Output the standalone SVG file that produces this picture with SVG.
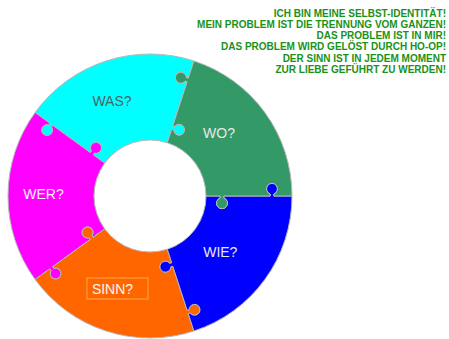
<svg xmlns="http://www.w3.org/2000/svg" width="449" height="339" viewBox="0 0 449 339">
<style>
.seg{stroke:#b8b8b8;stroke-width:1;stroke-linejoin:round}
.lbl{font-family:"Liberation Sans",Arial,sans-serif;font-size:14px;text-anchor:middle}
.msg{font-family:"Liberation Sans",Arial,sans-serif;font-size:10px;font-weight:bold;fill:#1a921a;text-anchor:end}
</style>
<rect width="449" height="339" fill="#ffffff"/>
<g id="ring">
<g id="was">
<path class="seg" fill="#00ffff" d="M167.31,142.74 L171.69,129.24 L173.60,129.85 A5.5,5.5 0 1 0 174.71,126.43 L172.81,125.81 L187.14,81.68 L185.24,81.07 A5.5,5.5 0 1 1 186.35,77.64 L188.26,78.26 L193.88,60.95 A142,142 0 0 0 35.12,112.53 L49.84,123.23 L48.67,124.85 A5.5,5.5 0 1 0 51.58,126.97 L52.76,125.35 L90.29,152.62 L91.47,151.00 A5.5,5.5 0 1 1 94.38,153.12 L93.21,154.74 L104.70,163.08 A56,56 0 0 1 167.31,142.74 Z"/>
<text class="lbl" x="112" y="105.5" fill="#4a6464">WAS?</text>
</g>
<g id="wer">
<path class="seg" fill="#ff00ff" d="M104.70,163.08 L93.21,154.74 L94.38,153.12 A5.5,5.5 0 1 0 91.47,151.00 L90.29,152.62 L52.76,125.35 L51.58,126.97 A5.5,5.5 0 1 1 48.67,124.85 L49.84,123.23 L35.12,112.53 A142,142 0 0 0 35.12,279.47 L49.84,268.77 L51.02,270.39 A5.5,5.5 0 1 0 53.93,268.27 L52.76,266.65 L90.29,239.38 L89.12,237.76 A5.5,5.5 0 1 1 92.03,235.64 L93.21,237.26 L104.70,228.92 A56,56 0 0 1 104.70,163.08 Z"/>
<text class="lbl" x="43.5" y="199" fill="#f4f4f4">WER?</text>
</g>
<g id="sinn">
<path class="seg" fill="#ff6600" stroke="#ff8a2a" d="M104.70,228.92 L93.21,237.26 L92.03,235.64 A5.5,5.5 0 1 0 89.12,237.76 L90.29,239.38 L52.76,266.65 L53.93,268.27 A5.5,5.5 0 1 1 51.02,270.39 L49.84,268.77 L35.12,279.47 A142,142 0 0 0 193.88,331.05 L188.26,313.74 L190.16,313.12 A5.5,5.5 0 1 0 189.05,309.70 L187.14,310.32 L172.81,266.19 L170.90,266.81 A5.5,5.5 0 1 1 169.79,263.38 L171.69,262.76 L167.31,249.26 A56,56 0 0 1 104.70,228.92 Z"/>
<rect x="87" y="278" width="61" height="21" fill="none" stroke="#ffaa44" stroke-width="1"/>
<text class="lbl" x="112.5" y="294.3" fill="#f6f6f6">SINN?</text>
</g>
<g id="wie">
<path class="seg" fill="#0000ff" d="M167.31,249.26 L171.69,262.76 L169.79,263.38 A5.5,5.5 0 1 0 170.90,266.81 L172.81,266.19 L187.14,310.32 L189.05,309.70 A5.5,5.5 0 1 1 190.16,313.12 L188.26,313.74 L193.88,331.05 A142,142 0 0 0 292,196 L273.8,196 L273.8,194 A5.5,5.5 0 1 0 270.2,194 L270.2,196 L223.8,196 L223.8,198 A5.5,5.5 0 1 1 220.2,198 L220.2,196 L206,196 A56,56 0 0 1 167.31,249.26 Z"/>
<text class="lbl" x="220.3" y="256.7" fill="#e8e8e8">WIE?</text>
</g>
<g id="wo">
<path class="seg" fill="#339966" stroke="#f0603a" d="M206,196 L220.2,196 L220.2,198 A5.5,5.5 0 1 0 223.8,198 L223.8,196 L270.2,196 L270.2,194 A5.5,5.5 0 1 1 273.8,194 L273.8,196 L292,196 A142,142 0 0 0 193.88,60.95 L188.26,78.26 L186.35,77.64 A5.5,5.5 0 1 0 185.24,81.07 L187.14,81.68 L172.81,125.81 L174.71,126.43 A5.5,5.5 0 1 1 173.60,129.85 L171.69,129.24 L167.31,142.74 A56,56 0 0 1 206,196 Z"/>
<text class="lbl" x="219" y="138.3" fill="#e8e8e8">WO?</text>
</g>
</g>
<g id="message">
<text class="msg" x="446" y="16.5">ICH BIN MEINE SELBST-IDENTITÄT!</text>
<text class="msg" x="446" y="27.8">MEIN PROBLEM IST DIE TRENNUNG VOM GANZEN!</text>
<text class="msg" x="446" y="39.1">DAS PROBLEM IST IN MIR!</text>
<text class="msg" x="446" y="50.4">DAS PROBLEM WIRD GELÖST DURCH HO-OP!</text>
<text class="msg" x="446" y="61.7">DER SINN IST IN JEDEM MOMENT</text>
<text class="msg" x="446" y="73">ZUR LIEBE GEFÜHRT ZU WERDEN!</text>
</g>
</svg>
